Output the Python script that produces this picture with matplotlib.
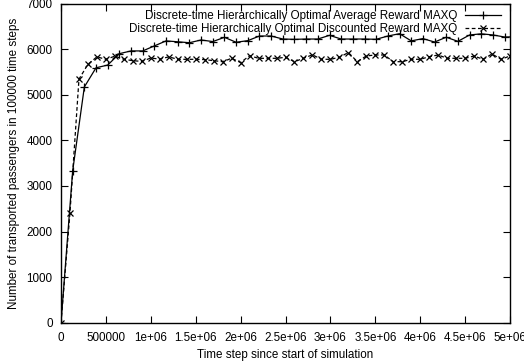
import matplotlib
matplotlib.use("Agg")
import matplotlib.pyplot as plt
import numpy as np

# --- data ---
avg_step = 130000
avg_values = [0, 3330, 5170, 5590, 5650, 5900, 5960, 5960, 6070, 6180,
              6160, 6140, 6200, 6165, 6258, 6150, 6185, 6287, 6287, 6221,
              6214, 6221, 6221, 6302, 6221, 6221, 6221, 6215, 6287, 6338,
              6180, 6230, 6155, 6260, 6170, 6310, 6335, 6310, 6265, 6270]
disc_step = 100000
disc_values = [0, 2410, 5340, 5667, 5830, 5776, 5845, 5776, 5746, 5730,
               5805, 5780, 5830, 5776, 5776, 5776, 5770, 5746, 5724, 5798,
               5705, 5855, 5798, 5798, 5798, 5820, 5724, 5798, 5875, 5776,
               5776, 5820, 5925, 5724, 5850, 5871, 5871, 5724, 5724, 5776,
               5776, 5833, 5871, 5798, 5798, 5798, 5849, 5776, 5893, 5776,
               5849]
avg_x = [i * avg_step for i in range(len(avg_values))]
disc_x = [i * disc_step for i in range(len(disc_values))]

avg_label = "Discrete-time Hierarchically Optimal Average Reward MAXQ"
disc_label = "Discrete-time Hierarchically Optimal Discounted Reward MAXQ"
x_ticks = [0, 500000, 1000000, 1500000, 2000000, 2500000, 3000000,
           3500000, 4000000, 4500000, 5000000]
x_tick_labels = ["0", "500000", "1e+06", "1.5e+06", "2e+06", "2.5e+06",
                 "3e+06", "3.5e+06", "4e+06", "4.5e+06", "5e+06"]
y_ticks = [0, 1000, 2000, 3000, 4000, 5000, 6000, 7000]
x_label = "Time step since start of simulation"
y_label = "Number of transported passengers in 100000 time steps"

plt.rcParams['font.family'] = ['Liberation Sans', 'DejaVu Sans']
fs = 8.4

fig = plt.figure(figsize=(5.24, 3.64), dpi=100)
ax = fig.add_axes([61/524, (364-322.7)/364, (510-61)/524, (322.7-3.5)/364])

ax.plot(avg_x, avg_values, color='black', lw=0.9, marker='+', ms=6,
        mew=0.9, label=avg_label, clip_on=True)
ax.plot(disc_x, disc_values, color='black', lw=0.9, ls=(0, (3, 2)),
        marker='x', ms=4.5, mew=0.9, label=disc_label, clip_on=True)

ax.set_xlim(0, 5000000)
ax.set_ylim(0, 7000)
ax.set_xticks(x_ticks)
ax.set_xticklabels(x_tick_labels)
ax.set_yticks(y_ticks)
ax.tick_params(direction='in', length=5, width=0.8, top=True, right=True,
               labelsize=fs, colors='black')
ax.tick_params(axis='x', pad=7)
ax.tick_params(axis='y', pad=6)
for s in ax.spines.values():
    s.set_linewidth(1.0)
    s.set_color('black')

ax.set_xlabel(x_label, fontsize=fs, labelpad=3)
ax.set_ylabel(y_label, fontsize=fs, labelpad=5)

leg = ax.legend(loc='upper right', frameon=False, markerfirst=False,
                fontsize=fs, handlelength=3.1, handletextpad=0.6,
                borderaxespad=0.2, labelspacing=0.05,
                bbox_to_anchor=(0.995, 1.0))

fig.savefig("out.png", dpi=100)
